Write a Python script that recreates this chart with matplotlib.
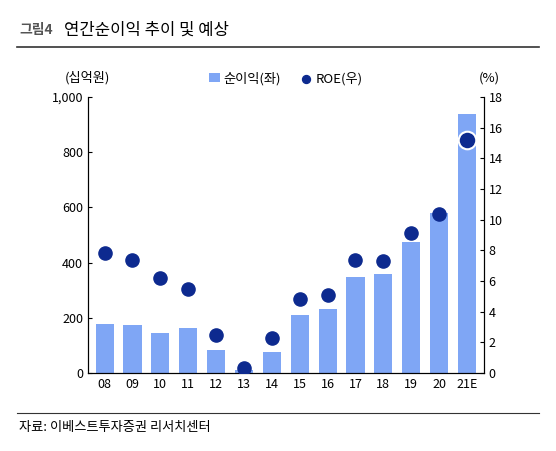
import matplotlib
matplotlib.use("Agg")
import matplotlib.pyplot as plt
plt.rcParams['font.family'] = ['Noto Sans CJK KR', 'DejaVu Sans']

years = ['08','09','10','11','12','13','14','15','16','17','18','19','20','21E']
profit = [178,174,145,163,83,11,76,210,232,348,359,475,580,938]
roe = [7.8,7.4,6.2,5.5,2.5,0.3,2.3,4.8,5.1,7.4,7.3,9.1,10.4,15.2]

fig = plt.figure(figsize=(5.56,4.51), dpi=100)
ax = fig.add_axes([0.158, 0.173, 0.712, 0.612])
x = range(len(years))
ax.bar(x, profit, width=0.65, color='#7fa6f5', label='순이익(좌)', zorder=2)
ax.set_ylim(0,1000); ax.set_yticks(range(0,1001,200))
ax.set_yticklabels(['0','200','400','600','800','1,000'])
ax.set_xlim(-0.6, len(years)-0.4)
ax.set_xticks(list(x)); ax.set_xticklabels(years)
ax2 = ax.twinx()
ax2.scatter(list(x)[:-1], roe[:-1], s=90, color='#0d2a8f', zorder=3, label='ROE(우)')
ax2.scatter([x[-1]], [roe[-1]], s=160, color='#0d2a8f', edgecolor='white', linewidth=1.5, zorder=3)
ax2.set_ylim(0,18); ax2.set_yticks(range(0,19,2))
for a in (ax, ax2):
    a.spines['top'].set_visible(False)
    a.tick_params(labelsize=9, direction='in', length=3)
ax.tick_params(axis='x', length=0)
fig.text(0.158, 0.82, '(십억원)', fontsize=9.5, ha='center')
fig.text(0.88, 0.82, '(%)', fontsize=9.5, ha='center')
h1,l1 = ax.get_legend_handles_labels(); h2,l2 = ax2.get_legend_handles_labels()
ax.legend(h1+h2, l1+l2, loc='lower center', bbox_to_anchor=(0.5, 1.0), ncol=2, frameon=False, fontsize=9.5, handlelength=0.8, handletextpad=0.3, columnspacing=1.5, markerscale=0.6)
fig.text(0.035, 0.925, '그림4', fontsize=10, color='#555555', weight='bold')
fig.text(0.115, 0.922, '연간순이익 추이 및 예상', fontsize=12, weight='medium')
fig.add_artist(plt.Line2D([0.03,0.97],[0.895,0.895], color='#333333', lw=1.2))
fig.add_artist(plt.Line2D([0.03,0.97],[0.085,0.085], color='#333333', lw=0.8))
fig.text(0.035, 0.045, '자료: 이베스트투자증권 리서치센터', fontsize=9.5)
fig.savefig('out.png', dpi=100)
